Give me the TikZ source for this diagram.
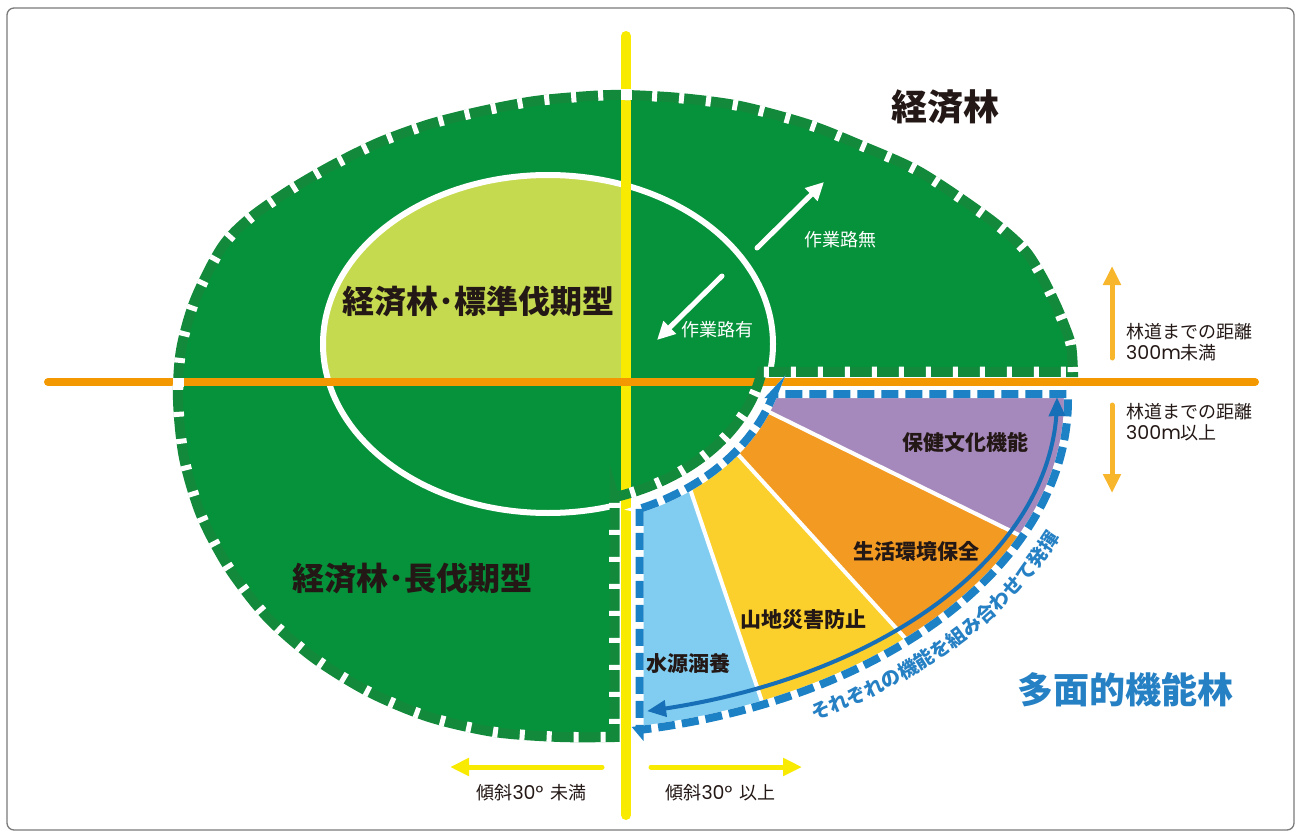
\documentclass[tikz,border=0pt]{standalone}
\usepackage{fontspec}
\newfontfamily\jp{Noto Sans CJK JP}
\newfontfamily\numfont{Poppins}
\usetikzlibrary{arrows.meta,decorations.text,calc}
\definecolor{gfill}{HTML}{06923A}
\definecolor{gband}{HTML}{138A3B}
\definecolor{lgreen}{HTML}{C5DA4F}
\definecolor{yline}{HTML}{F8EA00}
\definecolor{oline}{HTML}{F39800}
\definecolor{oarrow}{HTML}{F8B62D}
\definecolor{sky}{HTML}{80CDF1}
\definecolor{fyellow}{HTML}{FCD02C}
\definecolor{forange}{HTML}{F29A21}
\definecolor{fpurple}{HTML}{A689BC}
\definecolor{bband}{HTML}{1C82C5}
\definecolor{barrow}{HTML}{176FB7}
\definecolor{tblue}{HTML}{2680C4}
\definecolor{dtext}{HTML}{231815}
\definecolor{bordergray}{HTML}{7A7A7A}
\newcommand\myfs[1]{\fontsize{#1}{#1}\selectfont}
\newcommand\greenpath{plot[smooth,tension=0.5] coordinates {(1073,372) (1071,345) (1063,322) (1055,303) (1041,275) (1023,248) (987,217) (920,172) (860,145) (807,124) (740,106) (680,98) (625,95) (590,96) (535,101) (482,111) (430,124) (380,142) (333,165) (290,190) (250,218) (222,247) (195,300) (181,350) (178,400) (184,458) (201,515) (229,568) (267,617) (314,658) (369,692) (429,717) (494,732) (560,737) (614.5,737)} -- (614.5,497.2) -- plot[domain=72.15:10,samples=40] ({548+217*cos(\x)},{344+161*sin(\x)}) -- cycle}
\newcommand\fanpath{(639.5,508.9) -- (639.5,730) -- plot[domain=79.14:-1.02,samples=80] ({540+528*cos(\x)},{400+336*sin(\x)}) -- (773.6,394) -- plot[domain=16.2:67.1,samples=40] ({548+235*cos(\x)},{344+179*sin(\x)}) -- cycle}
\tikzset{
  smalllbl/.style={font=\jp\myfs{18},text=dtext,inner sep=0pt},
  whitelbl/.style={font=\jp\myfs{18},text=white,inner sep=0pt},
  fanlbl/.style={font=\jp\bfseries\myfs{21},text=dtext,inner sep=0pt},
  typelbl/.style={font=\jp\bfseries\myfs{32},text=dtext,inner sep=0pt},
  bigtip/.style={-{Triangle[length=19pt,width=17pt]}},
}
\begin{document}
\begin{tikzpicture}[x=1pt,y=-1pt]
\useasboundingbox (0,0) rectangle (1301,837);
\draw[bordergray,line width=1.3,rounded corners=7] (7,8) rectangle (1294,830);
% green main region
\fill[gfill] \greenpath;
% inner ellipse
\begin{scope}
  \clip (0,0) rectangle (626,382);
  \fill[lgreen] (548,344) ellipse [x radius=225, y radius=169];
\end{scope}
\draw[white,line width=6] (548,344) ellipse [x radius=225, y radius=169];
% fan sectors
\coordinate (O) at (643,350);
\begin{scope}
  \clip \fanpath;
  \fill[sky] (O) -- +(100:700) -- +(71.3:700) -- cycle;
  \fill[fyellow] (O) -- +(71.3:700) -- +(47.7:700) -- cycle;
  \fill[forange] (O) -- +(47.7:700) -- +(26.2:700) -- cycle;
  \fill[fpurple] (O) -- +(26.2:700) -- +(-15:700) -- cycle;
  \draw[white,line width=4] (O) -- +(71.3:700);
  \draw[white,line width=4] (O) -- +(47.7:700);
  \draw[white,line width=4] (O) -- +(26.2:700);
\end{scope}
% axis lines
\coordinate (ytop) at (626,36);
\coordinate (ybot) at (626,815);
\coordinate (oleft) at (48,382);
\coordinate (oright) at (1255,382);
\draw[yline,line width=10,line cap=round] (ytop) -- (ybot);
\draw[oline,line width=8,line cap=round] (oleft) -- (oright);
% dashed borders
\draw[gband,line width=10,line join=miter] \greenpath;
\draw[white,line width=10.6,dash pattern=on 5 off 22] \greenpath;
\fill[white] (620.5,89.5) rectangle (631.5,100.5);
\fill[white] (172.5,377.5) rectangle (183.5,386.5);
\draw[white,line width=8,line join=miter] \fanpath;
\draw[bband,line width=8,line join=miter,dash pattern=on 17 off 7] \fanpath;
% white arrows
\coordinate (a1s) at (757,248); \coordinate (a1e) at (824,182);
\coordinate (a2s) at (722,276); \coordinate (a2e) at (657,340);
\draw[white,line width=5,line cap=round,-{Triangle[length=18pt,width=17pt]}] (a1s) -- (a1e);
\draw[white,line width=5,line cap=round,-{Triangle[length=18pt,width=17pt]}] (a2s) -- (a2e);
% blue arrow
\draw[barrow,line width=4,{Triangle[length=19pt,width=16pt]}-{Triangle[length=19pt,width=16pt]}] plot[domain=78.05:-0.5,samples=100] ({540+517*cos(\x)},{400+318*sin(\x)});
% orange arrows
\coordinate (u1) at (1112,358); \coordinate (u2) at (1112,266);
\coordinate (d1) at (1112,405); \coordinate (d2) at (1112,493);
\draw[oarrow,line width=5,line cap=round,bigtip] (u1) -- (u2);
\draw[oarrow,line width=5,line cap=round,bigtip] (d1) -- (d2);
% yellow arrows
\coordinate (l1) at (602,767); \coordinate (l2) at (450,767);
\coordinate (r1) at (651,767); \coordinate (r2) at (802,767);
\draw[yline,line width=5,line cap=round,bigtip] (l1) -- (l2);
\draw[yline,line width=5,line cap=round,bigtip] (r1) -- (r2);
% texts
\node[font=\jp\bfseries\myfs{36},text=dtext] (keizai) at (945,107) {経済林};
\node[typelbl] (std) at (478,301) {経済林･標準伐期型};
\node[typelbl] (long) at (412,578) {経済林･長伐期型};
\node[whitelbl] (nashi) at (840,240) {作業路無};
\node[whitelbl] (ari) at (717,330) {作業路有};
\node[smalllbl,anchor=west] (near1) at (1126,332) {林道までの距離};
\node[smalllbl,anchor=west] (near2) at (1126,353) {{\numfont\myfs{19}300m}未満};
\node[smalllbl,anchor=west] (far1) at (1126,412) {林道までの距離};
\node[smalllbl,anchor=west] (far2) at (1126,433) {{\numfont\myfs{19}300m}以上};
\node[smalllbl] (lt) at (531.5,793) {傾斜{\numfont\myfs{19}30°}\hspace{7pt}未満};
\node[smalllbl] (ge) at (720.5,793) {傾斜{\numfont\myfs{19}30°}\hspace{7pt}以上};
\node[fanlbl] (hoken) at (965,442) {保健文化機能};
\node[fanlbl] (seikatsu) at (916,552) {生活環境保全};
\node[fanlbl] (sanchi) at (803,620) {山地災害防止};
\node[fanlbl] (suigen) at (688,663) {水源涵養};
\node[font=\jp\bfseries\myfs{36},text=tblue] (tamen) at (1125,690) {多面的機能林};
\path[decorate,decoration={text along path,text align=center,text color=tblue,
  text={|\jp\bfseries\myfs{19.5}|それぞれの機能を組み合わせて発揮}}]
  plot[domain=70:9,samples=100] ({540+560*cos(\x)},{400+368*sin(\x)});
\end{tikzpicture}
\end{document}
